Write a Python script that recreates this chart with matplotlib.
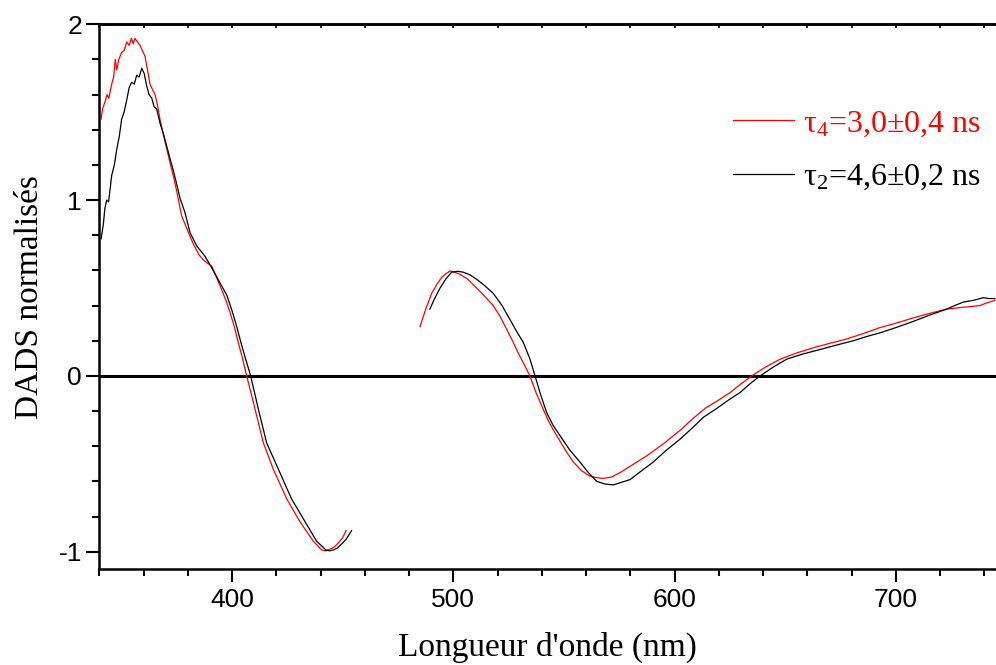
import matplotlib.pyplot as plt
import matplotlib.ticker as ticker

# Données : DADS normalisés (deux segments par spectre)
x_rouge_1 = [340.8, 341.5, 342.6, 343.5, 344.3, 345.6, 346.5, 347.2, 347.9, 348.8,
             350.1, 351.2, 352.4, 353.5, 354.5, 355.3, 356.1, 357.2, 358.4, 359.5,
             360.6, 361.8, 362.9, 364.0, 365.2, 366.3, 367.4, 369.0, 370.5, 372.0,
             373.4, 375.0, 377.2, 379.5, 382.5, 385.0, 387.0, 389.0, 390.8, 393.0,
             395.3, 397.2, 399.1, 401.0, 402.8, 404.7, 406.6, 410.4, 414.1, 418.6,
             424.7, 430.7, 436.7, 440.5, 442.5, 444.2, 446.0, 448.0, 450.0, 451.5]
y_rouge_1 = [1.46, 1.52, 1.56, 1.60, 1.58, 1.66, 1.70, 1.80, 1.74, 1.80,
             1.84, 1.85, 1.90, 1.88, 1.92, 1.89, 1.92, 1.90, 1.88, 1.85,
             1.82, 1.74, 1.66, 1.63, 1.60, 1.54, 1.46, 1.37, 1.29, 1.21,
             1.14, 1.05, 0.91, 0.84, 0.75, 0.69, 0.66, 0.64, 0.625, 0.56,
             0.49, 0.43, 0.36, 0.28, 0.19, 0.10, 0.00, -0.19, -0.38, -0.53,
             -0.70, -0.83, -0.94, -0.99, -0.995, -0.985, -0.975, -0.95, -0.92, -0.88]

x_noir_1 = [340.8, 341.8, 342.5, 343.3, 344.2, 345.6, 346.8, 347.9, 349.0, 350.1,
            351.2, 352.4, 353.5, 354.6, 355.8, 356.9, 358.0, 359.2, 360.3, 361.4,
            362.5, 363.7, 364.8, 365.9, 367.4, 368.9, 370.4, 371.9, 373.4, 375.0,
            376.5, 378.7, 381.0, 384.0, 387.8, 390.8, 394.5, 397.6, 400.0, 402.1,
            404.0, 405.8, 408.4, 411.9, 415.6, 420.9, 426.9, 433.0, 438.2, 442.4,
            444.0, 445.7, 447.5, 449.5, 451.5, 454.0]
y_noir_1 = [0.78, 0.86, 0.95, 1.00, 0.99, 1.14, 1.20, 1.29, 1.36, 1.46,
            1.50, 1.57, 1.64, 1.67, 1.66, 1.71, 1.70, 1.75, 1.72, 1.65,
            1.60, 1.58, 1.53, 1.52, 1.44, 1.38, 1.31, 1.24, 1.17, 1.09,
            1.01, 0.93, 0.815, 0.74, 0.68, 0.615, 0.53, 0.46, 0.37, 0.28,
            0.19, 0.11, 0.00, -0.19, -0.38, -0.53, -0.70, -0.83, -0.94, -0.99,
            -0.995, -0.99, -0.98, -0.956, -0.93, -0.88]

x_rouge_2 = [484.9, 487.5, 490.2, 492.5, 494.7, 496.5, 498.5, 500.5, 503.0, 506.5,
             510.5, 514.0, 518.0, 521.0, 524.1, 526.7, 529.3, 532.0, 534.6, 537.5,
             540.6, 543.5, 546.7, 550.5, 554.2, 558.0, 561.7, 564.5, 567.7, 571.5,
             575.3, 581.0, 587.3, 595.0, 602.4, 608.0, 613.7, 619.5, 625.0, 630.0,
             634.8, 641.0, 647.6, 655.0, 662.6, 670.0, 677.7, 685.0, 692.8, 700.0,
             707.8, 715.0, 722.9, 730.0, 737.9, 741.0, 744.7]
y_rouge_2 = [0.28, 0.38, 0.47, 0.52, 0.56, 0.58, 0.597, 0.59, 0.578, 0.55,
             0.50, 0.455, 0.40, 0.34, 0.265, 0.20, 0.13, 0.065, 0.0, -0.10,
             -0.19, -0.27, -0.34, -0.42, -0.49, -0.54, -0.57, -0.578, -0.583, -0.575,
             -0.55, -0.505, -0.455, -0.385, -0.31, -0.245, -0.185, -0.14, -0.095, -0.045,
             0.0, 0.05, 0.095, 0.13, 0.16, 0.185, 0.21, 0.24, 0.275, 0.30,
             0.33, 0.355, 0.38, 0.39, 0.40, 0.415, 0.43]

x_noir_2 = [489.4, 491.5, 494.0, 496.5, 499.2, 502.0, 504.5, 507.5, 510.5, 514.0,
            518.0, 522.0, 525.6, 528.5, 531.6, 534.5, 536.9, 539.5, 542.2, 545.0,
            548.2, 552.5, 557.2, 561.0, 564.8, 568.5, 572.3, 576.0, 579.8, 585.0,
            590.3, 596.0, 602.4, 608.5, 613.0, 619.0, 624.0, 629.5, 634.0, 638.6,
            644.5, 650.6, 658.0, 665.7, 673.0, 680.7, 687.0, 692.8, 700.0, 707.8,
            715.0, 722.9, 726.5, 730.4, 735.0, 739.5, 742.0, 744.7]
y_noir_2 = [0.38, 0.44, 0.50, 0.55, 0.59, 0.595, 0.59, 0.575, 0.55, 0.515,
            0.47, 0.40, 0.32, 0.255, 0.19, 0.10, 0.0, -0.11, -0.21, -0.28,
            -0.34, -0.42, -0.49, -0.55, -0.60, -0.615, -0.62, -0.605, -0.59, -0.54,
            -0.49, -0.425, -0.36, -0.29, -0.235, -0.185, -0.14, -0.095, -0.045, 0.0,
            0.05, 0.095, 0.125, 0.15, 0.175, 0.20, 0.225, 0.245, 0.275, 0.31,
            0.345, 0.38, 0.40, 0.42, 0.43, 0.445, 0.44, 0.44]

label_rouge = 'τ$_4$=3,0±0,4 ns'
label_noir = 'τ$_2$=4,6±0,2 ns'

plt.rcParams['mathtext.fontset'] = 'custom'
plt.rcParams['mathtext.rm'] = 'Liberation Serif'
plt.rcParams['mathtext.it'] = 'Liberation Serif'
plt.rcParams['axes.unicode_minus'] = False

fig = plt.figure(figsize=(9.96, 6.65), dpi=100)
ax = fig.add_axes([99.3 / 996, 1 - 569.3 / 665, 1 - 99.3 / 996, (569.3 - 24.3) / 665])

# Courbes
l_rouge, = ax.plot(x_rouge_1, y_rouge_1, color='#ff0000', lw=0.9, label=label_rouge)
ax.plot(x_rouge_2, y_rouge_2, color='#ff0000', lw=0.9)
l_noir, = ax.plot(x_noir_1, y_noir_1, color='black', lw=0.9, label=label_noir)
ax.plot(x_noir_2, y_noir_2, color='black', lw=0.9)

# Ligne du zéro
ax.axhline(0, color='black', lw=2.2, zorder=1)

ax.set_xlim(340, 745.2)
ax.set_ylim(-1.1, 2.0)

ax.xaxis.set_major_locator(ticker.MultipleLocator(100))
ax.xaxis.set_minor_locator(ticker.MultipleLocator(20))
ax.yaxis.set_major_locator(ticker.MultipleLocator(1))
ax.yaxis.set_minor_locator(ticker.MultipleLocator(0.2))
ax.set_xticks([400, 500, 600, 700])

ax.spines['right'].set_visible(False)
for s in ['left', 'bottom', 'top']:
    ax.spines[s].set_linewidth(1.8)

ax.tick_params(which='major', direction='out', length=9.5, width=1.5,
               labelsize=19, pad=3)
ax.tick_params(which='minor', direction='out', length=5, width=1.5)
ax.tick_params(axis='x', which='major', pad=4)
for lab in ax.get_xticklabels() + ax.get_yticklabels():
    lab.set_fontfamily('Liberation Sans')

# Petites graduations en haut
top = ax.secondary_xaxis('top')
top.xaxis.set_major_locator(ticker.MultipleLocator(100))
top.xaxis.set_minor_locator(ticker.MultipleLocator(20))
top.tick_params(which='both', direction='in', length=3, width=1.2, labeltop=False)
top.spines['top'].set_linewidth(1.8)

ax.set_xlabel("Longueur d'onde (nm)", fontfamily='Liberation Serif', fontsize=24, labelpad=14)
ax.set_ylabel('DADS normalisés', fontfamily='Liberation Serif', fontsize=24, labelpad=10)

leg = ax.legend(handles=[l_rouge, l_noir], loc='upper left',
                bbox_to_anchor=(733 / 996, 1 - 109 / 665), bbox_transform=fig.transFigure,
                frameon=False, borderpad=0, borderaxespad=0, handlelength=1.9,
                handletextpad=0.3, labelspacing=0.75,
                prop={'family': 'Liberation Serif', 'size': 23})
for txt, c in zip(leg.get_texts(), ['#ff0000', 'black']):
    txt.set_color(c)

plt.savefig('out.png', dpi=100)
